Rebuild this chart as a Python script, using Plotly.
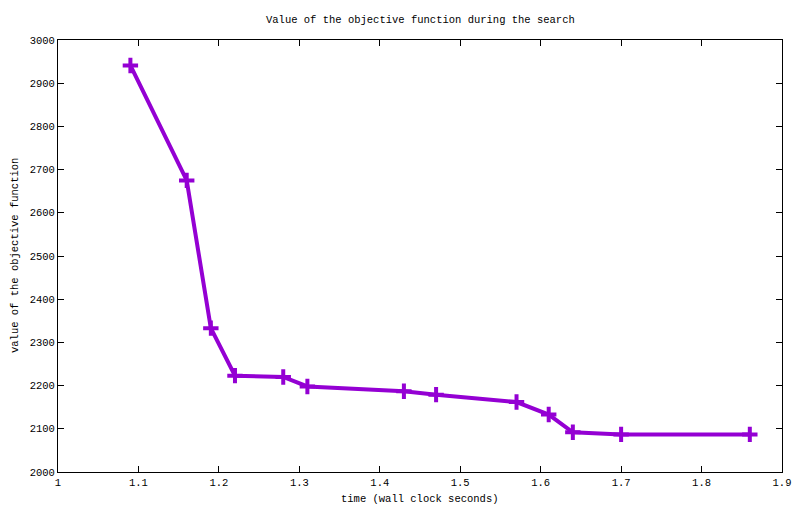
import plotly.graph_objects as go

# time (wall clock seconds) and objective value at each improvement
time_s = [1.09, 1.16, 1.19, 1.22, 1.28, 1.31, 1.43, 1.47, 1.57, 1.61, 1.64, 1.70, 1.86]
objective = [2941, 2675, 2333, 2223, 2220, 2198, 2187, 2179, 2162, 2133, 2092, 2087, 2087]

x_ticks = [1, 1.1, 1.2, 1.3, 1.4, 1.5, 1.6, 1.7, 1.8, 1.9]
y_ticks = [2000, 2100, 2200, 2300, 2400, 2500, 2600, 2700, 2800, 2900, 3000]

mono = "Liberation Mono, DejaVu Sans Mono, monospace"
fsize = 10.5
txt = dict(family=mono, size=fsize, color="black")

fig = go.Figure(
    go.Scatter(
        x=time_s, y=objective,
        mode="lines+markers",
        line=dict(color="#9400D3", width=4),
        marker=dict(symbol="cross-thin", size=11,
                    line=dict(color="#9400D3", width=4)),
        showlegend=False,
    )
)

axis_style = dict(
    showline=True, linecolor="black", linewidth=1, mirror="allticks",
    ticks="inside", ticklen=6, tickcolor="black", showgrid=False,
    zeroline=False, automargin=False, tickfont=txt,
)

# page body has an 8px margin, so the figure is a bit smaller than the window
fig.update_layout(
    width=784, height=498,
    paper_bgcolor="white", plot_bgcolor="white",
    margin=dict(l=50, r=10, t=32, b=34),
    font=txt,
    xaxis=dict(range=[1, 1.9], tickvals=x_ticks,
               ticktext=[f"{v:g}" for v in x_ticks], **axis_style),
    yaxis=dict(range=[2000, 3000], tickvals=y_ticks, **axis_style),
    annotations=[
        dict(text="Value of the objective function during the search",
             xref="paper", yref="paper", x=0.5, y=1, yshift=20,
             xanchor="center", yanchor="middle", showarrow=False, font=txt),
        dict(text="time (wall clock seconds)",
             xref="paper", yref="paper", x=0.5, y=0, yshift=-27,
             xanchor="center", yanchor="middle", showarrow=False, font=txt),
        dict(text="value of the objective function", textangle=-90,
             xref="paper", yref="paper", x=0, y=0.5, xshift=-43,
             xanchor="center", yanchor="middle", showarrow=False, font=txt),
    ],
)

fig.write_html("out.html")
